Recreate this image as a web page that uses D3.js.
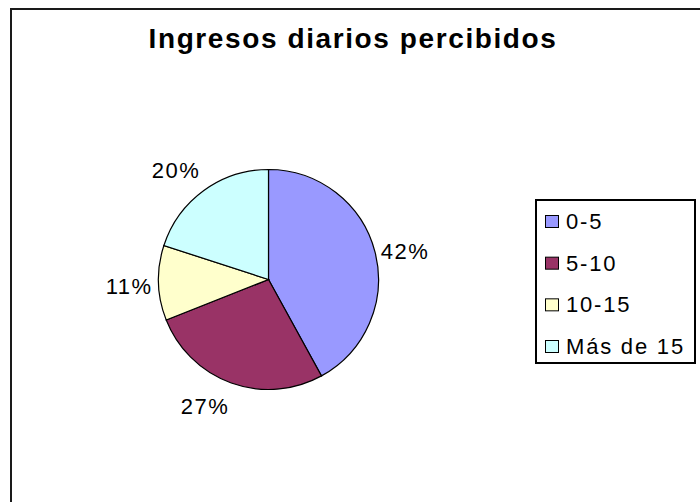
<!DOCTYPE html>
<html>
<head>
<meta charset="utf-8">
<script src="https://cdn.jsdelivr.net/npm/d3@7"></script>
<style>
  body { margin: 0; background: #fff; }
  svg { display: block; }
  text { font-family: "Liberation Sans", Arial, sans-serif; fill: #000; }
</style>
</head>
<body>
<div id="chart"></div>
<script>
// datos
var categorias = ["0-5", "5-10", "10-15", "Más de 15"];
var valores = [42, 27, 11, 20];
var colores = ["#9999ff", "#993366", "#ffffcc", "#ccffff"];
var titulo = "Ingresos diarios percibidos";

var width = 700, height = 502;

var svg = d3.select("#chart").append("svg")
    .attr("width", width)
    .attr("height", height);

// marco del grafico (sale por la derecha y abajo)
svg.append("rect")
    .attr("x", 11).attr("y", 9)
    .attr("width", 760).attr("height", 560)
    .attr("fill", "#fff")
    .attr("stroke", "#1a1a1a")
    .attr("stroke-width", 2);

svg.append("text")
    .attr("x", 353).attr("y", 48)
    .attr("text-anchor", "middle")
    .style("font-size", "28px")
    .style("font-weight", "bold")
    .style("letter-spacing", "1.6px")
    .text(titulo);

var cx = 268.5, cy = 279.5, r = 110;

var pie = d3.pie().sort(null).value(function(d){ return d; });
var arcs = pie(valores);
var arc = d3.arc().innerRadius(0).outerRadius(r);
var total = d3.sum(valores);

var g = svg.append("g").attr("transform", "translate(" + cx + "," + cy + ")");

g.selectAll("path.slice")
    .data(arcs)
  .enter().append("path")
    .attr("class", "slice")
    .attr("d", arc)
    .attr("fill", function(d, i){ return colores[i]; })
    .attr("stroke", "#000")
    .attr("stroke-width", 1.2);

// etiquetas de porcentaje, fuera del sector
var gapX = 6, gapY = 16;
g.selectAll("text.pct")
    .data(arcs)
  .enter().append("text")
    .attr("class", "pct")
    .style("font-size", "22px")
    .style("letter-spacing", "1.5px")
    .text(function(d){ return Math.round(d.value / total * 100) + "%"; })
    .each(function(d){
      var t = d3.select(this);
      var a = (d.startAngle + d.endAngle) / 2;
      var dx = Math.sin(a), dy = -Math.cos(a);
      var px = dx * (r + gapX), py = dy * (r + gapY);
      var bb = this.getBBox();
      var hw = bb.width / 2, hh = 8;
      var sx = dx > 0.3 ? 1 : (dx < -0.3 ? -1 : 0);
      var sy = dy > 0.3 ? 1 : (dy < -0.3 ? -1 : 0);
      var mx = px + sx * hw, my = py + sy * hh;
      if (sy === 0) my += 3;
      t.attr("x", mx).attr("y", my + hh)
       .attr("text-anchor", "middle");
    });

// leyenda
var lx = 536, ly = 200;
svg.append("rect")
    .attr("x", lx).attr("y", ly)
    .attr("width", 159).attr("height", 163)
    .attr("fill", "#fff")
    .attr("stroke", "#000")
    .attr("stroke-width", 2);

var ley = svg.append("g");
var rowY = d3.scalePoint().domain(categorias).range([221, 346]);

var item = ley.selectAll("g.item")
    .data(categorias)
  .enter().append("g")
    .attr("class", "item")
    .attr("transform", function(d){ return "translate(0," + rowY(d) + ")"; });

item.append("rect")
    .attr("x", 545.5).attr("y", -5.5)
    .attr("width", 13).attr("height", 12)
    .attr("fill", function(d, i){ return colores[i]; })
    .attr("stroke", "#000")
    .attr("stroke-width", 1);

item.append("text")
    .attr("x", 566).attr("y", 8)
    .style("font-size", "22px")
    .style("letter-spacing", "1.8px")
    .text(function(d){ return d; });
</script>
</body>
</html>
